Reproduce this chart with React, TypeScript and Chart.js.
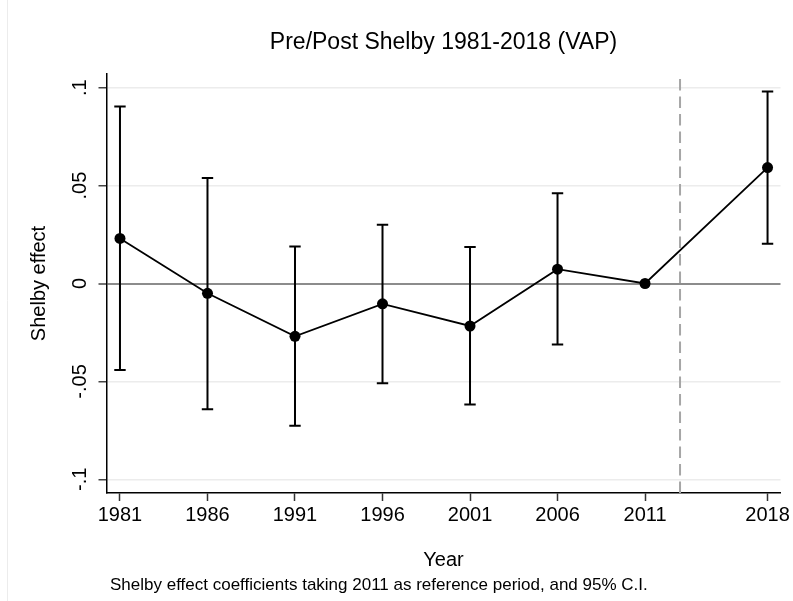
import React, { useEffect, useRef } from "react";
import { Chart, registerables } from "chart.js";

Chart.register(...registerables);

const years = [1981, 1986, 1991, 1996, 2001, 2006, 2011, 2018];
const coef = [0.023, -0.005, -0.027, -0.0104, -0.0217, 0.0073, 0, 0.0592];
const ciLow = [-0.0442, -0.0642, -0.0727, -0.0509, -0.0618, -0.0312, 0, 0.0203];
const ciHigh = [0.0904, 0.0539, 0.0189, 0.03, 0.0187, 0.0461, 0, 0.0981];
const yTicks = [-0.1, -0.05, 0, 0.05, 0.1];
const yTickLabels = ["-.1", "-.05", "0", ".05", ".1"];
const shelbyYear = 2013;
const titleText = "Pre/Post Shelby 1981-2018 (VAP)";
const xTitle = "Year";
const yTitle = "Shelby effect";
const noteText = "Shelby effect coefficients taking 2011 as reference period, and 95% C.I.";

const FONT = '"Liberation Sans", Arial, Helvetica, sans-serif';

const decorPlugin = {
  id: "decor",
  beforeDatasetsDraw(chart: any) {
    const { ctx, chartArea, scales } = chart;
    const x = scales.x;
    const y = scales.y;
    ctx.save();
    const px = x.getPixelForValue(shelbyYear);
    ctx.strokeStyle = "#a6a6a6";
    ctx.lineWidth = 2;
    ctx.setLineDash([11.5, 6]);
    ctx.beginPath();
    ctx.moveTo(px, chartArea.bottom);
    ctx.lineTo(px, chartArea.top);
    ctx.stroke();
    ctx.setLineDash([]);
    ctx.strokeStyle = "#000";
    ctx.lineWidth = 2;
    years.forEach((yr, i) => {
      if (ciLow[i] === ciHigh[i]) return;
      const cx = x.getPixelForValue(yr);
      const y1 = y.getPixelForValue(ciLow[i]);
      const y2 = y.getPixelForValue(ciHigh[i]);
      ctx.beginPath();
      ctx.moveTo(cx, y1);
      ctx.lineTo(cx, y2);
      ctx.moveTo(cx - 5.7, y1);
      ctx.lineTo(cx + 5.7, y1);
      ctx.moveTo(cx - 5.7, y2);
      ctx.lineTo(cx + 5.7, y2);
      ctx.stroke();
    });
    ctx.restore();
  },
  afterDraw(chart: any) {
    const { ctx, chartArea } = chart;
    ctx.save();
    ctx.strokeStyle = "#ececec";
    ctx.lineWidth = 1;
    ctx.beginPath();
    ctx.moveTo(7.5, 0);
    ctx.lineTo(7.5, chart.height);
    ctx.stroke();
    ctx.fillStyle = "#000";
    ctx.font = `23px ${FONT}`;
    ctx.textAlign = "center";
    ctx.textBaseline = "alphabetic";
    ctx.fillText(titleText, (chartArea.left + chartArea.right) / 2, 49);
    ctx.font = `17px ${FONT}`;
    ctx.textAlign = "left";
    ctx.fillText(noteText, 110, 590);
    ctx.restore();
  },
};

export default function App() {
  const ref = useRef<HTMLCanvasElement | null>(null);
  useEffect(() => {
    if (!ref.current) return;
    const chart = new Chart(ref.current, {
      type: "line",
      data: {
        datasets: [
          {
            data: years.map((yr, i) => ({ x: yr, y: coef[i] })),
            borderColor: "#000",
            borderWidth: 1.8,
            pointRadius: 5.5,
            pointBackgroundColor: "#000",
            pointBorderWidth: 0,
            tension: 0,
          },
        ],
      },
      options: {
        responsive: false,
        animation: false,
        layout: { padding: { top: 74, right: 12.5, left: 0, bottom: 0 } },
        plugins: { legend: { display: false }, tooltip: { enabled: false }, title: { display: false } },
        scales: {
          x: {
            type: "linear",
            min: 1980.23,
            max: 2018.74,
            afterBuildTicks: (s: any) => {
              s.ticks = years.map((v) => ({ value: v }));
            },
            afterFit: (s: any) => {
              s.height = 108;
              s.paddingLeft = 0;
              s.paddingRight = 0;
            },
            ticks: {
              autoSkip: false,
              maxRotation: 0,
              minRotation: 0,
              padding: 2,
              color: "#000",
              font: { size: 20, family: FONT },
              callback: (v: any) => String(v),
            },
            grid: { drawOnChartArea: false, drawTicks: true, tickLength: 8, tickColor: "#333", tickWidth: 1.5 },
            border: { display: true, color: "#000", width: 1.5 },
            title: {
              display: true,
              text: xTitle,
              color: "#000",
              font: { size: 20, family: FONT },
              padding: { top: 0, bottom: 29 },
            },
          },
          y: {
            type: "linear",
            min: -0.107,
            max: 0.107,
            afterBuildTicks: (s: any) => {
              s.ticks = yTicks.map((v) => ({ value: v }));
            },
            afterFit: (s: any) => {
              s.width = 106.5;
              s.paddingTop = 0;
              s.paddingBottom = 0;
            },
            ticks: {
              autoSkip: false,
              minRotation: 90,
              maxRotation: 90,
              crossAlign: "center",
              padding: 1,
              color: "#000",
              font: { size: 20, family: FONT },
              callback: (v: any) => {
                const idx = yTicks.findIndex((t) => Math.abs(t - v) < 1e-9);
                return idx >= 0 ? yTickLabels[idx] : "";
              },
            },
            grid: {
              color: (c: any) => (c.tick && Math.abs(c.tick.value) < 1e-9 ? "#8c8c8c" : "#ececec"),
              lineWidth: (c: any) => (c.tick && Math.abs(c.tick.value) < 1e-9 ? 2 : 1.5),
              drawTicks: true,
              tickLength: 8,
              tickColor: "#444",
              tickWidth: 1.5,
            },
            border: { display: true, color: "#000", width: 1.5 },
            title: {
              display: true,
              text: yTitle,
              color: "#000",
              font: { size: 20, family: FONT },
              padding: { top: 27, bottom: 0 },
            },
          },
        },
      },
      plugins: [decorPlugin],
    } as any);
    return () => chart.destroy();
  }, []);
  return (
    <div style={{ position: "absolute", left: 0, top: 0, width: 793, height: 601, background: "#fff" }}>
      <canvas ref={ref} width={793} height={601} style={{ display: "block" }} />
    </div>
  );
}
